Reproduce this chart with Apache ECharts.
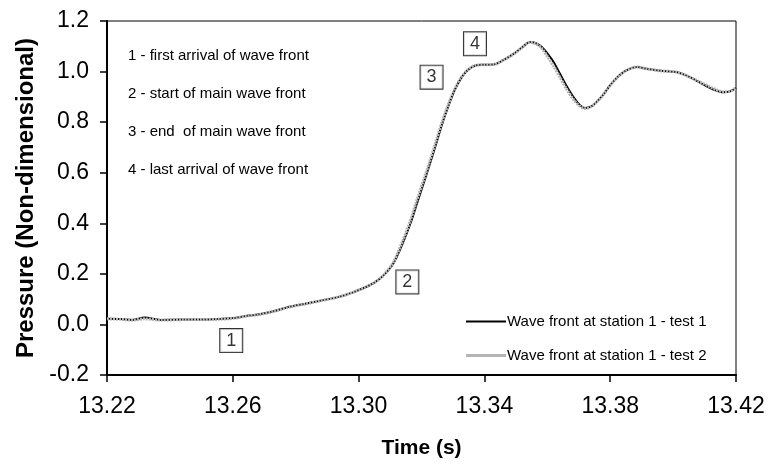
<!DOCTYPE html>
<html>
<head>
<meta charset="utf-8">
<script src="https://cdn.jsdelivr.net/npm/echarts@6/dist/echarts.min.js"></script>
<style>
  html, body { margin: 0; padding: 0; background: #fff; }
  #container { width: 768px; height: 464px; }
</style>
</head>
<body>
<div id="container"></div>
<script>
// time axis (s)
const times = [
  13.220, 13.2245, 13.228, 13.232, 13.237, 13.244, 13.250, 13.255, 13.260, 13.265,
  13.268, 13.273, 13.278, 13.283, 13.287, 13.294, 13.298, 13.302, 13.305, 13.308,
  13.311, 13.314, 13.3165, 13.3185, 13.3205, 13.3225, 13.3245, 13.3265, 13.3285, 13.3305,
  13.3325, 13.3345, 13.337, 13.340, 13.343, 13.346, 13.3495, 13.352, 13.3545, 13.356,
  13.358, 13.360, 13.362, 13.364, 13.366, 13.3685, 13.3705, 13.372, 13.374, 13.3757,
  13.378, 13.380, 13.3825, 13.385, 13.3885, 13.392, 13.396, 13.401, 13.4035, 13.4055,
  13.408, 13.4107, 13.413, 13.416, 13.418, 13.420
];
const test1 = [
  0.022, 0.021, 0.018, 0.027, 0.018, 0.019, 0.019, 0.021, 0.025, 0.035,
  0.039, 0.052, 0.070, 0.082, 0.092, 0.110, 0.126, 0.146, 0.165, 0.195,
  0.240, 0.320, 0.400, 0.476, 0.552, 0.628, 0.708, 0.790, 0.862, 0.925,
  0.972, 1.003, 1.023, 1.027, 1.028, 1.045, 1.072, 1.096, 1.117, 1.114,
  1.100, 1.072, 1.038, 0.992, 0.946, 0.896, 0.866, 0.856, 0.862, 0.880,
  0.912, 0.946, 0.980, 1.004, 1.018, 1.010, 1.003, 0.998, 0.988, 0.977,
  0.960, 0.942, 0.928, 0.918, 0.921, 0.935
];
const test2 = [
  0.022, 0.020, 0.017, 0.022, 0.017, 0.019, 0.019, 0.020, 0.024, 0.034,
  0.038, 0.051, 0.069, 0.081, 0.091, 0.110, 0.126, 0.146, 0.165, 0.195,
  0.245, 0.330, 0.413, 0.490, 0.565, 0.640, 0.720, 0.800, 0.870, 0.930,
  0.975, 1.005, 1.024, 1.027, 1.028, 1.045, 1.071, 1.095, 1.116, 1.112,
  1.095, 1.060, 1.022, 0.978, 0.933, 0.887, 0.862, 0.854, 0.862, 0.880,
  0.912, 0.946, 0.980, 1.004, 1.018, 1.010, 1.003, 0.998, 0.988, 0.977,
  0.962, 0.946, 0.932, 0.920, 0.922, 0.935
];
const seriesNames = ["Wave front at station 1 - test 1", "Wave front at station 1 - test 2"];

// boxed point markers
const markerLabels = ["1", "2", "3", "4"];
const markerTimes = [13.2595, 13.3155, 13.3232, 13.337];
const markerValues = [-0.064, 0.168, 0.978, 1.110];

const notes = [
  "1 - first arrival of wave front",
  "2 - start of main wave front",
  "3 - end  of main wave front",
  "4 - last arrival of wave front"
];

const FONT = "'Liberation Sans', Arial, sans-serif";

function zip(xs, ys) {
  let out = [];
  for (let i = 0; i < xs.length; i++) out.push([xs[i], ys[i]]);
  return out;
}

let myChart = echarts.init(document.getElementById("container"), null, { renderer: "canvas" });

let noteGraphics = [];
for (let n = 0; n < notes.length; n++) {
  noteGraphics.push({
    type: "text",
    left: 128,
    top: 48 + n * 38,
    style: { text: notes[n], font: "15px " + FONT, fill: "#000" }
  });
}

let markerData = [];
for (let m = 0; m < markerLabels.length; m++) {
  markerData.push({ value: [markerTimes[m], markerValues[m]], name: markerLabels[m] });
}

let option = {
  animation: false,
  backgroundColor: "#fff",
  textStyle: { fontFamily: FONT },
  grid: {
    left: 107,
    right: 32,
    top: 21,
    bottom: 88,
    show: true,
    borderColor: "#000",
    borderWidth: 1,
    backgroundColor: "transparent"
  },
  legend: {
    orient: "vertical",
    left: 461,
    top: 309,
    itemWidth: 40,
    itemHeight: 14,
    itemGap: 19,
    data: [
      { name: seriesNames[0], icon: "path://M0,6 L40,6 L40,8 L0,8 Z", itemStyle: { color: "#000" } },
      { name: seriesNames[1], icon: "path://M0,5.5 L40,5.5 L40,8.5 L0,8.5 Z", itemStyle: { color: "#b4b4b4" } }
    ],
    textStyle: { fontSize: 15, color: "#000", fontFamily: FONT, padding: [0, 0, 0, -4] }
  },
  graphic: noteGraphics,
  xAxis: {
    type: "value",
    min: 13.22,
    max: 13.42,
    interval: 0.04,
    name: "Time (s)",
    nameLocation: "middle",
    nameGap: 63,
    nameTextStyle: { fontSize: 21, fontWeight: "bold", color: "#000", fontFamily: FONT },
    axisLine: { show: true, onZero: false, lineStyle: { color: "#000", width: 2 } },
    axisTick: { show: true, inside: false, length: 7, lineStyle: { color: "#000", width: 1.5 } },
    axisLabel: {
      fontSize: 23,
      color: "#000",
      margin: 20,
      fontFamily: FONT,
      formatter: function (v) { return v.toFixed(2); }
    },
    splitLine: { show: false }
  },
  yAxis: {
    type: "value",
    min: -0.2,
    max: 1.2,
    interval: 0.2,
    name: "Pressure (Non-dimensional)",
    nameLocation: "middle",
    nameGap: 68,
    nameTextStyle: { fontSize: 24, fontWeight: "bold", color: "#000", fontFamily: FONT },
    axisLine: { show: true, onZero: false, lineStyle: { color: "#000", width: 2 } },
    axisTick: { show: true, inside: false, length: 7, lineStyle: { color: "#000", width: 1.5 } },
    axisLabel: {
      fontSize: 23,
      color: "#000",
      margin: 18,
      fontFamily: FONT,
      formatter: function (v) { return v.toFixed(1); }
    },
    splitLine: { show: false }
  },
  series: [
    {
      name: seriesNames[0],
      type: "line",
      data: zip(times, test1),
      showSymbol: false,
      smooth: 0.3,
      lineStyle: { color: "#000", width: 2 },
      itemStyle: { color: "#000" },
      z: 2
    },
    {
      name: seriesNames[1],
      type: "line",
      data: zip(times, test2),
      showSymbol: false,
      smooth: 0.3,
      lineStyle: { color: "#b4b4b4", width: 3, type: [2, 1] },
      itemStyle: { color: "#b4b4b4" },
      z: 3
    },
    {
      name: "markers",
      type: "scatter",
      data: markerData,
      symbolSize: 0,
      silent: true,
      z: 5,
      label: {
        show: true,
        position: "inside",
        formatter: "{b}",
        fontSize: 18,
        color: "#000",
        fontFamily: FONT,
        backgroundColor: "#fff",
        borderColor: "#000",
        borderWidth: 1,
        padding: [3, 6, 2, 6]
      }
    }
  ]
};

myChart.setOption(option);
window.addEventListener("resize", myChart.resize);
</script>
</body>
</html>
